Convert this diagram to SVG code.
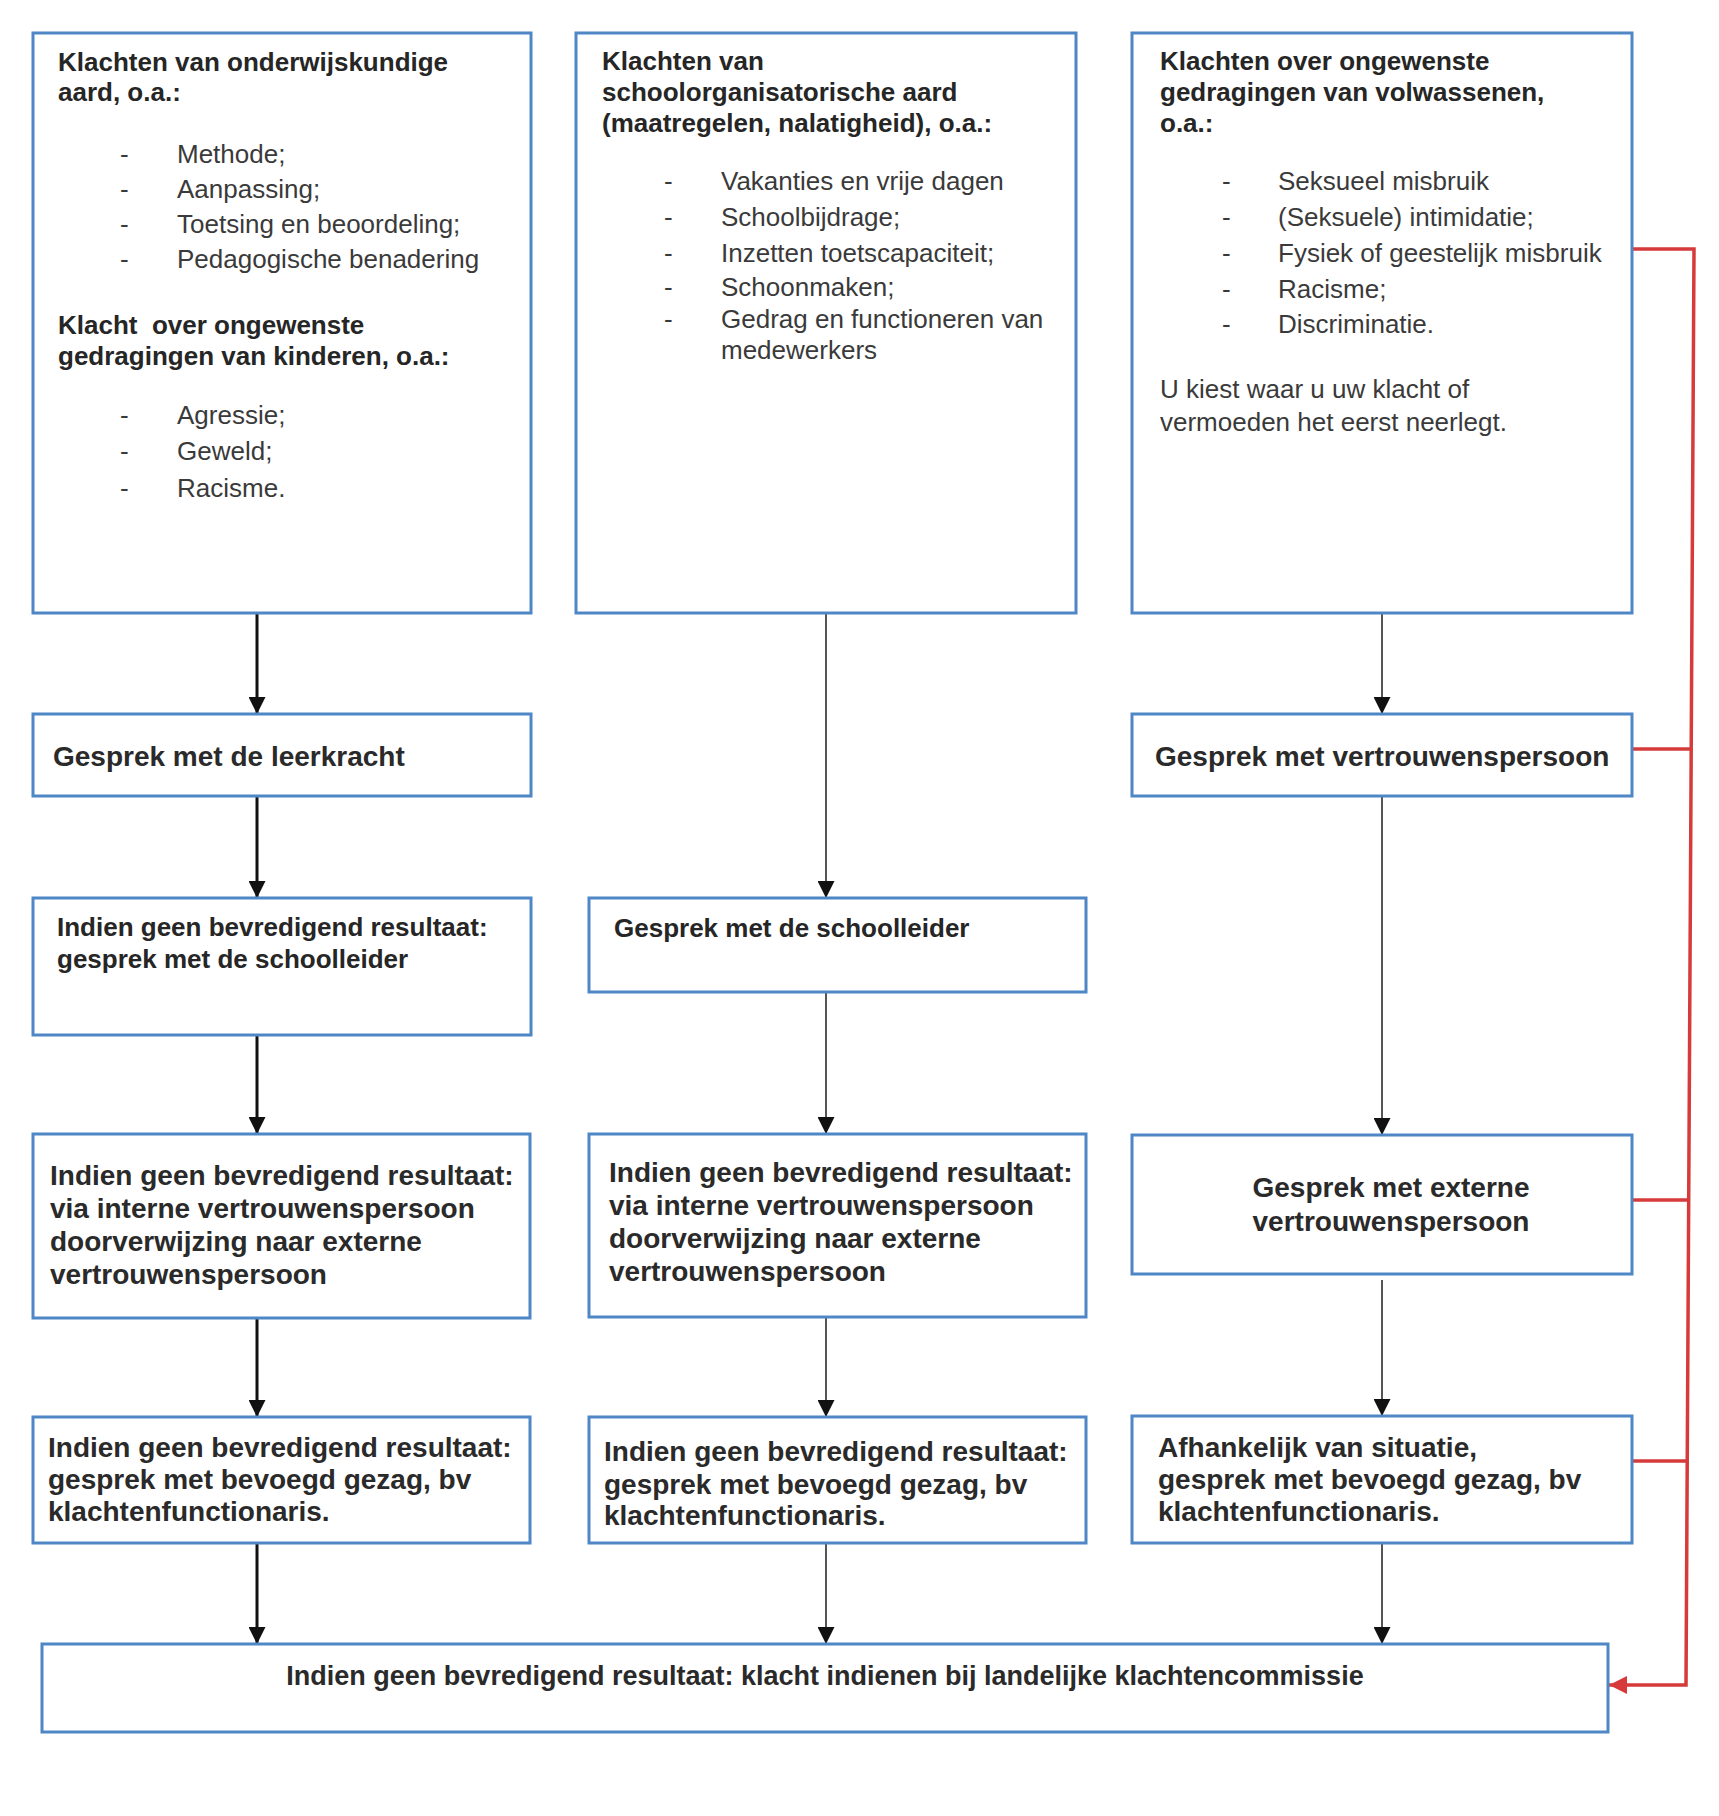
<svg xmlns="http://www.w3.org/2000/svg" width="1719" height="1816" viewBox="0 0 1719 1816">
<style>
.box{fill:#fff;stroke:#4f86c6;stroke-width:3}
.h{font-family:"Liberation Sans",Arial,sans-serif;font-weight:bold;font-size:26px;fill:#262626}
.it{font-family:"Liberation Sans",Arial,sans-serif;font-size:26px;fill:#3a3a3a}
.b{font-family:"Liberation Sans",Arial,sans-serif;font-weight:bold;font-size:28px;fill:#2a2a2a}
.f{font-family:"Liberation Sans",Arial,sans-serif;font-weight:bold;font-size:27px;fill:#2a2a2a}
.k{fill:none;stroke:#111;stroke-width:3}
.g{fill:none;stroke:#555;stroke-width:2}
.r{fill:none;stroke:#d63a3a;stroke-width:3.5}
</style>
<defs>
<marker id="ah" viewBox="0 0 10 10" refX="10" refY="5" markerUnits="userSpaceOnUse" markerWidth="17" markerHeight="17" orient="auto"><path d="M0,0 L10,5 L0,10 z" fill="#111"/></marker>
<marker id="ahr" viewBox="0 0 10 10" refX="10" refY="5" markerUnits="userSpaceOnUse" markerWidth="18" markerHeight="18" orient="auto"><path d="M0,0 L10,5 L0,10 z" fill="#d63a3a"/></marker>
</defs>
<rect width="1719" height="1816" fill="#fff"/>

<g id="connectors">
<line class="k" x1="257" y1="613" x2="257" y2="714" marker-end="url(#ah)"/>
<line class="k" x1="257" y1="796" x2="257" y2="898" marker-end="url(#ah)"/>
<line class="k" x1="257" y1="1035" x2="257" y2="1134" marker-end="url(#ah)"/>
<line class="k" x1="257" y1="1318" x2="257" y2="1417" marker-end="url(#ah)"/>
<line class="k" x1="257" y1="1543" x2="257" y2="1644" marker-end="url(#ah)"/>
<line class="g" x1="826" y1="613" x2="826" y2="898" marker-end="url(#ah)"/>
<line class="g" x1="826" y1="992" x2="826" y2="1134" marker-end="url(#ah)"/>
<line class="g" x1="826" y1="1317" x2="826" y2="1417" marker-end="url(#ah)"/>
<line class="g" x1="826" y1="1543" x2="826" y2="1644" marker-end="url(#ah)"/>
<line class="g" x1="1382" y1="613" x2="1382" y2="714" marker-end="url(#ah)"/>
<line class="g" x1="1382" y1="796" x2="1382" y2="1135" marker-end="url(#ah)"/>
<line class="g" x1="1382" y1="1280" x2="1382" y2="1416" marker-end="url(#ah)"/>
<line class="g" x1="1382" y1="1543" x2="1382" y2="1644" marker-end="url(#ah)"/>
<path class="r" d="M1632,249 L1694,249 L1686,1685 L1609,1685" marker-end="url(#ahr)"/>
<line class="r" x1="1632" y1="749" x2="1691" y2="749"/>
<line class="r" x1="1632" y1="1200" x2="1689" y2="1200"/>
<line class="r" x1="1632" y1="1461" x2="1687" y2="1461"/>
</g>

<g id="n1">
<rect class="box" x="33" y="33" width="498" height="580"/>
<text class="h" x="58" y="71">Klachten van onderwijskundige</text>
<text class="h" x="58" y="101">aard, o.a.:</text>
<text class="it" x="120" y="163">-</text><text class="it" x="177" y="163">Methode;</text>
<text class="it" x="120" y="198">-</text><text class="it" x="177" y="198">Aanpassing;</text>
<text class="it" x="120" y="233">-</text><text class="it" x="177" y="233">Toetsing en beoordeling;</text>
<text class="it" x="120" y="268">-</text><text class="it" x="177" y="268">Pedagogische benadering</text>
<text class="h" x="58" y="334" xml:space="preserve">Klacht  over ongewenste</text>
<text class="h" x="58" y="365">gedragingen van kinderen, o.a.:</text>
<text class="it" x="120" y="424">-</text><text class="it" x="177" y="424">Agressie;</text>
<text class="it" x="120" y="460">-</text><text class="it" x="177" y="460">Geweld;</text>
<text class="it" x="120" y="497">-</text><text class="it" x="177" y="497">Racisme.</text>
</g>

<g id="n2">
<rect class="box" x="576" y="33" width="500" height="580"/>
<text class="h" x="602" y="70">Klachten van</text>
<text class="h" x="602" y="101">schoolorganisatorische aard</text>
<text class="h" x="602" y="132">(maatregelen, nalatigheid), o.a.:</text>
<text class="it" x="664" y="190">-</text><text class="it" x="721" y="190">Vakanties en vrije dagen</text>
<text class="it" x="664" y="226">-</text><text class="it" x="721" y="226">Schoolbijdrage;</text>
<text class="it" x="664" y="262">-</text><text class="it" x="721" y="262">Inzetten toetscapaciteit;</text>
<text class="it" x="664" y="296">-</text><text class="it" x="721" y="296">Schoonmaken;</text>
<text class="it" x="664" y="328">-</text><text class="it" x="721" y="328">Gedrag en functioneren van</text>
<text class="it" x="721" y="359">medewerkers</text>
</g>

<g id="n3">
<rect class="box" x="1132" y="33" width="500" height="580"/>
<text class="h" x="1160" y="70">Klachten over ongewenste</text>
<text class="h" x="1160" y="101">gedragingen van volwassenen,</text>
<text class="h" x="1160" y="132">o.a.:</text>
<text class="it" x="1222" y="190">-</text><text class="it" x="1278" y="190">Seksueel misbruik</text>
<text class="it" x="1222" y="226">-</text><text class="it" x="1278" y="226">(Seksuele) intimidatie;</text>
<text class="it" x="1222" y="262">-</text><text class="it" x="1278" y="262">Fysiek of geestelijk misbruik</text>
<text class="it" x="1222" y="298">-</text><text class="it" x="1278" y="298">Racisme;</text>
<text class="it" x="1222" y="333">-</text><text class="it" x="1278" y="333">Discriminatie.</text>
<text class="it" x="1160" y="398">U kiest waar u uw klacht of</text>
<text class="it" x="1160" y="431">vermoeden het eerst neerlegt.</text>
</g>

<g id="n4">
<rect class="box" x="33" y="714" width="498" height="82"/>
<text class="b" x="53" y="766">Gesprek met de leerkracht</text>
</g>

<g id="n5">
<rect class="box" x="1132" y="714" width="500" height="82"/>
<text class="b" x="1155" y="766">Gesprek met vertrouwenspersoon</text>
</g>

<g id="n6">
<rect class="box" x="33" y="898" width="498" height="137"/>
<text class="h" x="57" y="936">Indien geen bevredigend resultaat:</text>
<text class="h" x="57" y="968">gesprek met de schoolleider</text>
</g>

<g id="n7">
<rect class="box" x="589" y="898" width="497" height="94"/>
<text class="h" x="614" y="937">Gesprek met de schoolleider</text>
</g>

<g id="n8">
<rect class="box" x="33" y="1134" width="497" height="184"/>
<text class="b" x="50" y="1185">Indien geen bevredigend resultaat:</text>
<text class="b" x="50" y="1218">via interne vertrouwenspersoon</text>
<text class="b" x="50" y="1251">doorverwijzing naar externe</text>
<text class="b" x="50" y="1284">vertrouwenspersoon</text>
</g>

<g id="n9">
<rect class="box" x="589" y="1134" width="497" height="183"/>
<text class="b" x="609" y="1182">Indien geen bevredigend resultaat:</text>
<text class="b" x="609" y="1215">via interne vertrouwenspersoon</text>
<text class="b" x="609" y="1248">doorverwijzing naar externe</text>
<text class="b" x="609" y="1281">vertrouwenspersoon</text>
</g>

<g id="n10">
<rect class="box" x="1132" y="1135" width="500" height="139"/>
<text class="b" x="1391" y="1197" text-anchor="middle">Gesprek met externe</text>
<text class="b" x="1391" y="1231" text-anchor="middle">vertrouwenspersoon</text>
</g>

<g id="n11">
<rect class="box" x="33" y="1417" width="497" height="126"/>
<text class="b" x="48" y="1457">Indien geen bevredigend resultaat:</text>
<text class="b" x="48" y="1489">gesprek met bevoegd gezag, bv</text>
<text class="b" x="48" y="1521">klachtenfunctionaris.</text>
</g>

<g id="n12">
<rect class="box" x="589" y="1417" width="497" height="126"/>
<text class="b" x="604" y="1461">Indien geen bevredigend resultaat:</text>
<text class="b" x="604" y="1494">gesprek met bevoegd gezag, bv</text>
<text class="b" x="604" y="1525">klachtenfunctionaris.</text>
</g>

<g id="n13">
<rect class="box" x="1132" y="1416" width="500" height="127"/>
<text class="b" x="1158" y="1457">Afhankelijk van situatie,</text>
<text class="b" x="1158" y="1489">gesprek met bevoegd gezag, bv</text>
<text class="b" x="1158" y="1521">klachtenfunctionaris.</text>
</g>

<g id="n14">
<rect class="box" x="42" y="1644" width="1566" height="88"/>
<text class="f" x="825" y="1685" text-anchor="middle">Indien geen bevredigend resultaat: klacht indienen bij landelijke klachtencommissie</text>
</g>
</svg>
